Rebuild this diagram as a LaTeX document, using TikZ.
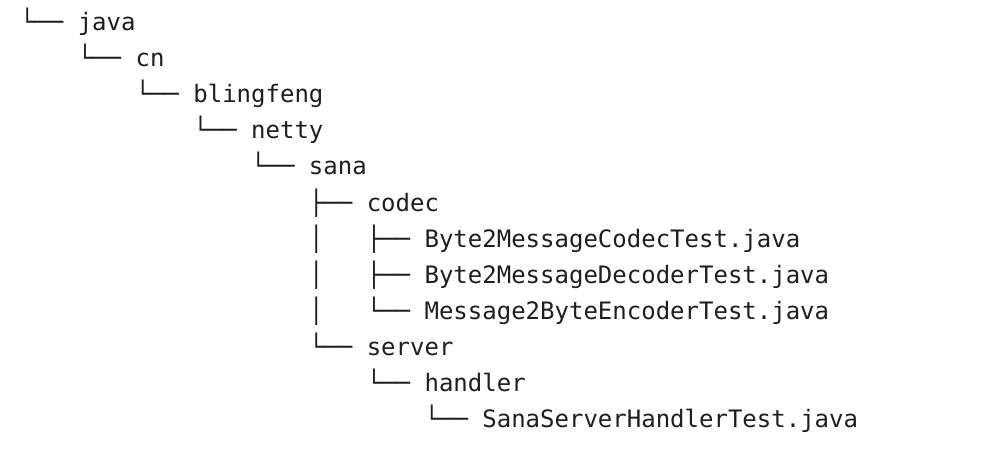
\documentclass[tikz,border=0pt]{standalone}
\usepackage{fontspec}
\newfontfamily\treefont{DejaVu Sans Mono}
\definecolor{ink}{HTML}{1E1E1E}
\begin{document}
\begin{tikzpicture}[
  treeline/.style={anchor=base west, inner sep=0pt, outer sep=0pt, text=ink,
    font=\treefont\fontsize{24}{28}\selectfont}
]
\useasboundingbox[fill=white] (0,0) rectangle (982pt,-466pt);
\begin{scope}[shift={(20pt,-30.5pt)}, x=14.45pt, y=-36.1pt]
\node[treeline] (l1)  at (0,0)  {└── java};
\node[treeline] (l2)  at (4,1)  {└── cn};
\node[treeline] (l3)  at (8,2)  {└── blingfeng};
\node[treeline] (l4)  at (12,3) {└── netty};
\node[treeline] (l5)  at (16,4) {└── sana};
\node[treeline] (l6)  at (20,5) {├── codec};
\node[treeline] (b7)  at (20,6) {│};
\node[treeline] (l7)  at (24,6) {├── Byte2MessageCodecTest.java};
\node[treeline] (b8)  at (20,7) {│};
\node[treeline] (l8)  at (24,7) {├── Byte2MessageDecoderTest.java};
\node[treeline] (b9)  at (20,8) {│};
\node[treeline] (l9)  at (24,8) {└── Message2ByteEncoderTest.java};
\node[treeline] (l10) at (20,9) {└── server};
\node[treeline] (l11) at (24,10) {└── handler};
\node[treeline] (l12) at (28,11) {└── SanaServerHandlerTest.java};
\end{scope}
\end{tikzpicture}
\end{document}
